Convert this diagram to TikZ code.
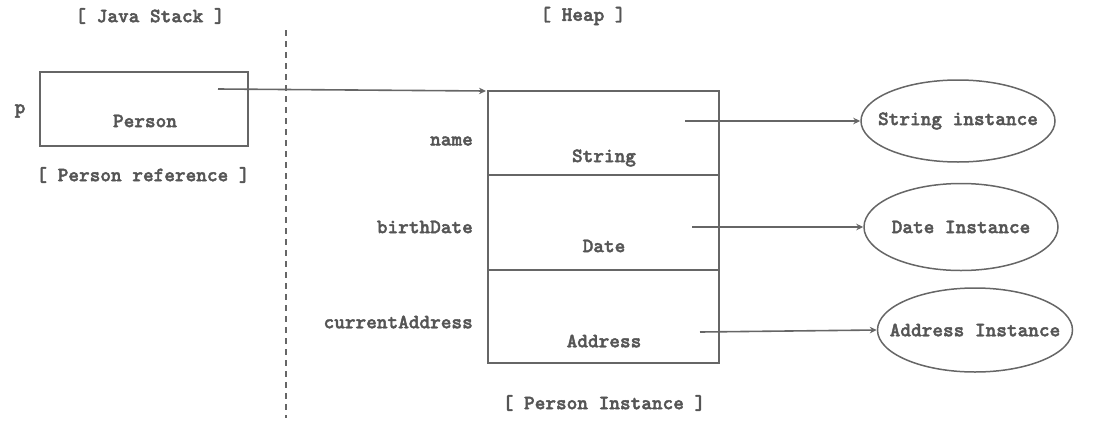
\documentclass[tikz,border=0pt]{standalone}
\usepackage{fontspec}
\setmonofont{lmmonolt10-bold}[Extension=.otf, FakeBold=2]
\usetikzlibrary{arrows.meta,shapes.geometric}
\definecolor{ink}{HTML}{555555}
\definecolor{linec}{HTML}{666666}
\begin{document}
\begin{tikzpicture}[x=1pt,y=-1pt,
  every node/.style={font=\ttfamily\fontsize{20.3}{22}\selectfont, text=ink, inner sep=0pt},
  box/.style={draw=linec, line width=1.5pt},
  conn/.style={draw=linec, line width=1.6pt, -{Stealth[length=7pt,width=6.5pt]}},
  inst/.style={draw=linec, line width=1.5pt, ellipse, inner xsep=-30pt, inner ysep=0pt}]
\useasboundingbox (0,0) rectangle (1098,445);
\node (js) at (150,16) {[ Java Stack ]};
\node (hp) at (583,16) {[ Heap ]};
\coordinate (d1) at (286,30);
\coordinate (d2) at (286,418);
\draw[linec, line width=1.5pt, dash pattern=on 6pt off 5pt] (d1) -- (d2);
% stack
\draw[box] (40,72) rectangle (248,146);
\node (person) at (145,121) {Person};
\node (p) at (20,111) {p};
\node (pref) at (143,175) {[ Person reference ]};
% heap object
\draw[box] (488,91) rectangle (719,363);
\draw[box] (488,175) -- (719,175);
\draw[box] (488,270) -- (719,270);
\node[anchor=east] (name) at (473,141) {name};
\node (str) at (604,158) {String};
\node[anchor=east] (bd) at (473,227) {birthDate};
\node (date) at (604,246) {Date};
\node[anchor=east] (ca) at (473,322) {currentAddress};
\node (addr) at (604,341) {Address};
\node (pinst) at (604,403) {[ Person Instance ]};
% instances
\node[inst, minimum width=194pt, minimum height=82pt] (si) at (958,121) {String instance};
\node[inst, minimum width=194pt, minimum height=87pt] (di) at (961,227) {Date Instance};
\node[inst, minimum width=195pt, minimum height=84pt] (ai) at (975,330) {Address Instance};
% connectors
\coordinate (s0) at (218,89);
\coordinate (h0) at (486,91);
\draw[conn] (s0) -- (h0);
\coordinate (s1) at (685,121);
\draw[conn] (s1) -- (si.west);
\coordinate (s2) at (692,227);
\draw[conn] (s2) -- (di.west);
\coordinate (s3) at (700,332);
\draw[conn] (s3) -- (ai.west);
\end{tikzpicture}
\end{document}
